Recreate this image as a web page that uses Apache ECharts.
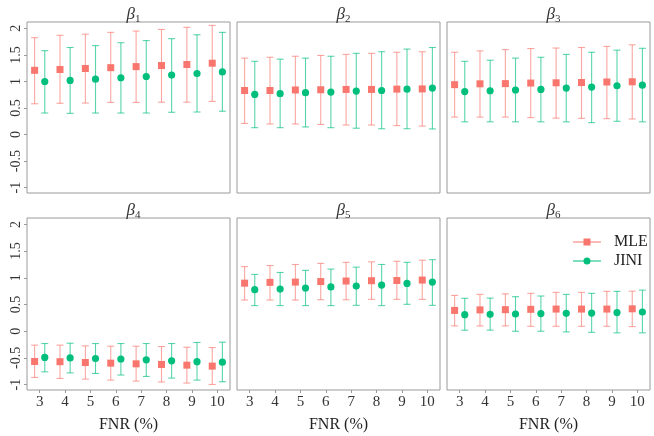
<!DOCTYPE html>
<html>
<head>
<meta charset="utf-8">
<script src="https://cdn.jsdelivr.net/npm/echarts@6/dist/echarts.min.js"></script>
<style>
html, body { margin: 0; padding: 0; background: #fff; }
#chart { width: 654px; height: 436px; }
</style>
</head>
<body>
<div id="chart"></div>
<script>
// FNR levels on the x axis
const fnr = ['3', '4', '5', '6', '7', '8', '9', '10'];
const yTicks = [-1, -0.5, 0, 0.5, 1, 1.5, 2];

// beta 1
const b1MleMid = [1.21, 1.225, 1.244, 1.26, 1.28, 1.30, 1.32, 1.344];
const b1MleLo  = [0.58, 0.59, 0.594, 0.606, 0.606, 0.61, 0.61, 0.625];
const b1MleHi  = [1.825, 1.87, 1.89, 1.925, 1.95, 1.98, 2.02, 2.056];
const b1JiniMid = [1.0, 1.02, 1.044, 1.07, 1.094, 1.12, 1.15, 1.18];
const b1JiniLo  = [0.406, 0.40, 0.406, 0.406, 0.406, 0.42, 0.425, 0.44];
const b1JiniHi  = [1.58, 1.64, 1.675, 1.73, 1.77, 1.806, 1.88, 1.925];

// beta 2
const b2MleMid = [0.83, 0.83, 0.84, 0.844, 0.85, 0.85, 0.856, 0.86];
const b2MleLo  = [0.21, 0.20, 0.20, 0.19, 0.18, 0.18, 0.17, 0.16];
const b2MleHi  = [1.44, 1.456, 1.475, 1.49, 1.51, 1.53, 1.55, 1.56];
const b2JiniMid = [0.756, 0.77, 0.79, 0.80, 0.82, 0.83, 0.856, 0.875];
const b2JiniLo  = [0.13, 0.13, 0.144, 0.13, 0.12, 0.11, 0.11, 0.106];
const b2JiniHi  = [1.38, 1.42, 1.44, 1.475, 1.53, 1.56, 1.61, 1.64];

// beta 3
const b3MleMid = [0.94, 0.956, 0.96, 0.97, 0.975, 0.98, 0.99, 0.994];
const b3MleLo  = [0.33, 0.33, 0.33, 0.32, 0.31, 0.306, 0.30, 0.294];
const b3MleHi  = [1.55, 1.575, 1.60, 1.62, 1.63, 1.64, 1.66, 1.69];
const b3JiniMid = [0.81, 0.825, 0.84, 0.85, 0.875, 0.894, 0.92, 0.93];
const b3JiniLo  = [0.24, 0.24, 0.24, 0.24, 0.24, 0.225, 0.25, 0.24];
const b3JiniHi  = [1.38, 1.40, 1.44, 1.456, 1.51, 1.55, 1.59, 1.625];

// beta 4
const b4MleMid = [-0.566, -0.57, -0.585, -0.597, -0.61, -0.622, -0.635, -0.653];
const b4MleLo  = [-0.865, -0.884, -0.896, -0.915, -0.933, -0.95, -0.97, -0.996];
const b4MleHi  = [-0.26, -0.26, -0.274, -0.28, -0.28, -0.286, -0.30, -0.305];
const b4JiniMid = [-0.49, -0.50, -0.51, -0.52, -0.535, -0.554, -0.57, -0.58];
const b4JiniLo  = [-0.76, -0.78, -0.79, -0.82, -0.846, -0.877, -0.915, -0.946];
const b4JiniHi  = [-0.23, -0.224, -0.23, -0.23, -0.23, -0.23, -0.21, -0.205];

// beta 5
const b5MleMid = [0.90, 0.915, 0.92, 0.93, 0.94, 0.946, 0.95, 0.958];
const b5MleLo  = [0.585, 0.585, 0.585, 0.59, 0.59, 0.597, 0.597, 0.597];
const b5MleHi  = [1.21, 1.23, 1.25, 1.27, 1.29, 1.30, 1.31, 1.33];
const b5JiniMid = [0.778, 0.79, 0.81, 0.83, 0.846, 0.865, 0.896, 0.92];
const b5JiniLo  = [0.48, 0.48, 0.48, 0.48, 0.485, 0.48, 0.504, 0.485];
const b5JiniHi  = [1.064, 1.10, 1.14, 1.164, 1.20, 1.25, 1.29, 1.34];

// beta 6
const b6MleMid = [0.39, 0.40, 0.404, 0.41, 0.415, 0.415, 0.415, 0.42];
const b6MleLo  = [0.10, 0.10, 0.10, 0.093, 0.093, 0.093, 0.093, 0.087];
const b6MleHi  = [0.67, 0.69, 0.70, 0.71, 0.728, 0.728, 0.747, 0.75];
const b6JiniMid = [0.31, 0.317, 0.323, 0.33, 0.336, 0.34, 0.35, 0.36];
const b6JiniLo  = [0.02, 0.02, 0.0, 0.0, -0.012, -0.02, -0.03, -0.03];
const b6JiniHi  = [0.616, 0.62, 0.647, 0.66, 0.69, 0.71, 0.747, 0.77];

const panels = [
  { sub: '1', mle: [b1MleLo, b1MleMid, b1MleHi], jini: [b1JiniLo, b1JiniMid, b1JiniHi] },
  { sub: '2', mle: [b2MleLo, b2MleMid, b2MleHi], jini: [b2JiniLo, b2JiniMid, b2JiniHi] },
  { sub: '3', mle: [b3MleLo, b3MleMid, b3MleHi], jini: [b3JiniLo, b3JiniMid, b3JiniHi] },
  { sub: '4', mle: [b4MleLo, b4MleMid, b4MleHi], jini: [b4JiniLo, b4JiniMid, b4JiniHi] },
  { sub: '5', mle: [b5MleLo, b5MleMid, b5MleHi], jini: [b5JiniLo, b5JiniMid, b5JiniHi] },
  { sub: '6', mle: [b6MleLo, b6MleMid, b6MleHi], jini: [b6JiniLo, b6JiniMid, b6JiniHi] }
];

const red = '#F8766D', redBar = 'rgba(248,118,109,0.65)';
const green = '#00BF7D', greenBar = 'rgba(0,191,125,0.65)';
const serif = '"Liberation Serif", "DejaVu Serif", serif';

const colLeft = [27, 237, 447];
const rowTop = [22, 218];
const panelW = 203, panelH = [171, 172];

function pointRange(dir, barColor, color, shape) {
  return function (params, api) {
    const i = api.value(0);
    const band = api.size([1, 0])[0];
    const c = api.coord([i, api.value(2)]);
    const x = c[0] + dir * band * 0.2;
    const yLo = api.coord([i, api.value(1)])[1];
    const yHi = api.coord([i, api.value(3)])[1];
    const cap = 3.5;
    const line = { stroke: barColor, lineWidth: 1.1 };
    const marker = shape === 'rect'
      ? { type: 'rect', shape: { x: x - 3.5, y: c[1] - 3.5, width: 7, height: 7 }, style: { fill: color } }
      : { type: 'circle', shape: { cx: x, cy: c[1], r: 3.6 }, style: { fill: color } };
    return {
      type: 'group',
      children: [
        { type: 'line', shape: { x1: x, y1: yLo, x2: x, y2: yHi }, style: line },
        { type: 'line', shape: { x1: x - cap, y1: yLo, x2: x + cap, y2: yLo }, style: line },
        { type: 'line', shape: { x1: x - cap, y1: yHi, x2: x + cap, y2: yHi }, style: line },
        marker
      ]
    };
  };
}

const grid = [], xAxis = [], yAxis = [], series = [], title = [];

panels.forEach(function (p, k) {
  const row = Math.floor(k / 3), col = k % 3;
  const left = colLeft[col], top = rowTop[row];
  grid.push({
    left: left, top: top, width: panelW, height: panelH[row],
    show: true, borderColor: '#9a9a9a', borderWidth: 1, backgroundColor: '#fff'
  });
  xAxis.push({
    type: 'category', gridIndex: k, data: fnr, boundaryGap: true, position: 'bottom',
    axisLine: { show: false, onZero: false },
    axisTick: { show: row === 1, alignWithLabel: true, length: 3, lineStyle: { color: '#9a9a9a' } },
    axisLabel: { show: row === 1, margin: 5, color: '#333', fontFamily: serif, fontSize: 15 },
    splitLine: { show: false },
    name: row === 1 ? 'FNR (%)' : '', nameLocation: 'middle', nameGap: 27,
    nameTextStyle: { color: '#222', fontFamily: serif, fontSize: 16 }
  });
  yAxis.push({
    type: 'value', gridIndex: k, min: -1.1, max: 2.12,
    axisLine: { show: false, onZero: false },
    axisTick: { show: col === 0, length: 3, customValues: yTicks, lineStyle: { color: '#9a9a9a' } },
    axisLabel: {
      show: col === 0, rotate: 90, margin: 4, customValues: yTicks,
      color: '#333', fontFamily: serif, fontSize: 14
    },
    splitLine: { show: false }
  });
  title.push({
    text: '{b|β}{s|' + p.sub + '}',
    left: left + panelW / 2, top: top - 22, textAlign: 'center',
    textStyle: {
      fontWeight: 'normal',
      rich: {
        b: { fontFamily: serif, fontStyle: 'italic', fontWeight: 'normal', fontSize: 17, color: '#333', lineHeight: 20 },
        s: { fontFamily: serif, fontWeight: 'normal', fontSize: 11, color: '#333', lineHeight: 10, verticalAlign: 'bottom' }
      }
    }
  });
  const mleData = fnr.map(function (f, i) { return [i, p.mle[0][i], p.mle[1][i], p.mle[2][i]]; });
  const jiniData = fnr.map(function (f, i) { return [i, p.jini[0][i], p.jini[1][i], p.jini[2][i]]; });
  series.push({
    name: 'MLE', type: 'custom', xAxisIndex: k, yAxisIndex: k,
    itemStyle: { color: red },
    encode: { x: 0, y: [1, 2, 3] },
    renderItem: pointRange(-1, redBar, red, 'rect'),
    data: mleData
  });
  series.push({
    name: 'JINI', type: 'custom', xAxisIndex: k, yAxisIndex: k,
    itemStyle: { color: green },
    encode: { x: 0, y: [1, 2, 3] },
    renderItem: pointRange(1, greenBar, green, 'circle'),
    data: jiniData
  });
});

const chart = echarts.init(document.getElementById('chart'), null, { renderer: 'canvas' });
chart.setOption({
  animation: false,
  backgroundColor: '#fff',
  title: title,
  grid: grid,
  xAxis: xAxis,
  yAxis: yAxis,
  legend: {
    orient: 'vertical', left: 568, top: 229, itemGap: 3,
    itemWidth: 28, itemHeight: 7,
    textStyle: { fontFamily: serif, fontSize: 16, color: '#222', padding: [0, 0, 0, 8] },
    data: [
      { name: 'MLE', icon: 'path://M0,3h28v1h-28z M10.5,0h7v7h-7z' },
      { name: 'JINI', icon: 'path://M0,3h28v1h-28z M14,0a3.5,3.5 0 1,1 0,7a3.5,3.5 0 1,1 0,-7z' }
    ]
  },
  series: series
});
</script>
</body>
</html>
